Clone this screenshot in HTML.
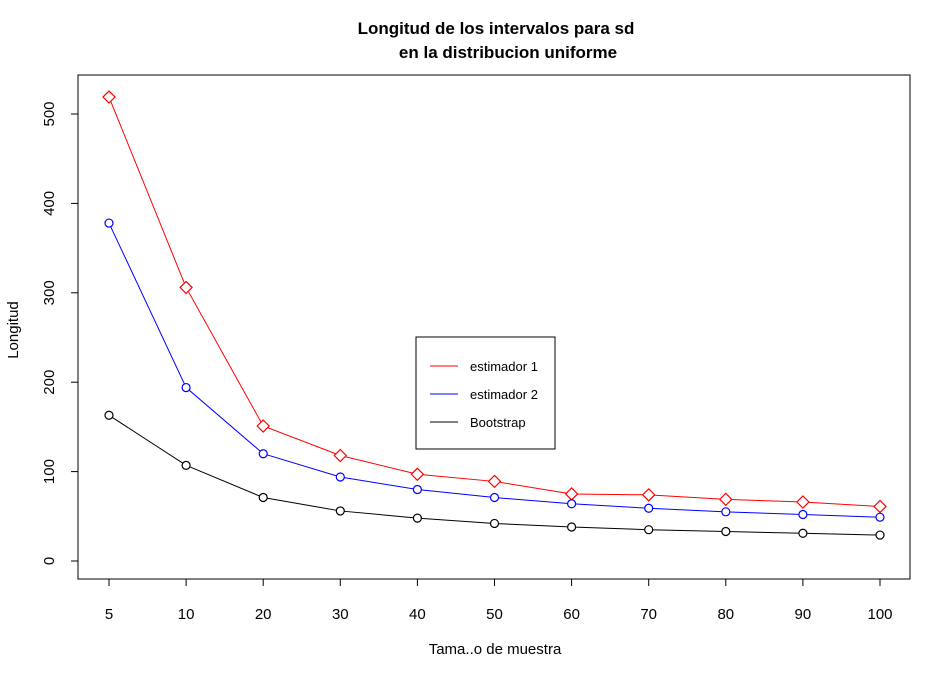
<!DOCTYPE html>
<html><head><meta charset="utf-8"><style>
html,body{margin:0;padding:0;background:#fff}
svg{display:block;font-family:"Liberation Sans",Arial,sans-serif}
</style></head><body>
<svg id="chart" width="951" height="678" viewBox="0 0 951 678">
<text x="496" y="34" text-anchor="middle" font-size="17" font-weight="bold">Longitud de los intervalos para sd</text>
<text x="508" y="58" text-anchor="middle" font-size="17" font-weight="bold">en la distribucion uniforme</text>
<rect x="78" y="75" width="832" height="504" fill="none" stroke="#000"/>
<g id="axes"></g>
<g id="series"></g>
<text x="495" y="654" text-anchor="middle" font-size="15">Tama..o de muestra</text>
<text transform="translate(18,330) rotate(-90)" text-anchor="middle" font-size="15">Longitud</text>
<g>
<rect x="416" y="337" width="139" height="112" fill="#fff" stroke="#000"/>
<line x1="430" y1="366" x2="458" y2="366" stroke="#ff0000"/>
<text x="470" y="371" font-size="13">estimador 1</text>
<line x1="430" y1="394" x2="458" y2="394" stroke="#0000ff"/>
<text x="470" y="399" font-size="13">estimador 2</text>
<line x1="430" y1="422" x2="458" y2="422" stroke="#000"/>
<text x="470" y="427" font-size="13">Bootstrap</text>
</g>
</svg>
<script>
const categories = ["5","10","20","30","40","50","60","70","80","90","100"];
const estimador1 = [519,306,151,118,97,89,75,74,69,66,61];
const estimador2 = [378,194,120,94,80,71,64,59,55,52,49];
const bootstrap = [163,107,71,56,48,42,38,35,33,31,29];
const yTicks = [0,100,200,300,400,500];

const NS = "http://www.w3.org/2000/svg";
function xPos(i){ return 109 + i*(880-109)/(categories.length-1); }
function yPos(v){ return 561 - v*(561-114)/500; }
function mk(tag, attrs, parent){ const e=document.createElementNS(NS,tag); for(const k in attrs) e.setAttribute(k,attrs[k]); parent.appendChild(e); return e; }

const axes=document.getElementById('axes');
let xl=mk('line',{x1:xPos(0),x2:xPos(categories.length-1),y1:579,y2:579,stroke:'#000'},axes);


categories.forEach((c,i)=>{
  const t=mk('line',{x1:xPos(i),x2:xPos(i),y1:579,y2:586,stroke:'#000'},axes);
  
  
  const l=mk('text',{x:xPos(i),y:619,'text-anchor':'middle','font-size':15},axes);
  l.textContent=c;
  
  
});
let yl=mk('line',{x1:78,x2:78,y1:yPos(0),y2:yPos(500),stroke:'#000'},axes);


yTicks.forEach(v=>{
  const t=mk('line',{x1:71,x2:78,y1:yPos(v),y2:yPos(v),stroke:'#000'},axes);
  
  
  const l=mk('text',{transform:`translate(54,${yPos(v)}) rotate(-90)`,'text-anchor':'middle','font-size':15},axes);
  l.textContent=v;
  
  
});

const sg=document.getElementById('series');
function drawSeries(vals,color,shape,name){
  const pts=vals.map((v,i)=>[xPos(i),yPos(v)]);
  const pl=mk('polyline',{points:pts.map(p=>p.join(',')).join(' '),fill:'none',stroke:color,'stroke-width':1},sg);
  
  
  pts.forEach(([x,y])=>{
    let m;
    if(shape==='diamond'){
      m=mk('polygon',{points:`${x},${y-6} ${x+6},${y} ${x},${y+6} ${x-6},${y}`,fill:'#fff',stroke:color,'stroke-width':1.2},sg);
    } else {
      m=mk('circle',{cx:x,cy:y,r:4,fill:'#fff',stroke:color,'stroke-width':1.2},sg);
    }
    
    
  });
}
drawSeries(estimador1,'#ff0000','diamond','estimador-1');
drawSeries(estimador2,'#0000ff','circle','estimador-2');
drawSeries(bootstrap,'#000000','circle','bootstrap');
</script>
</body></html>
